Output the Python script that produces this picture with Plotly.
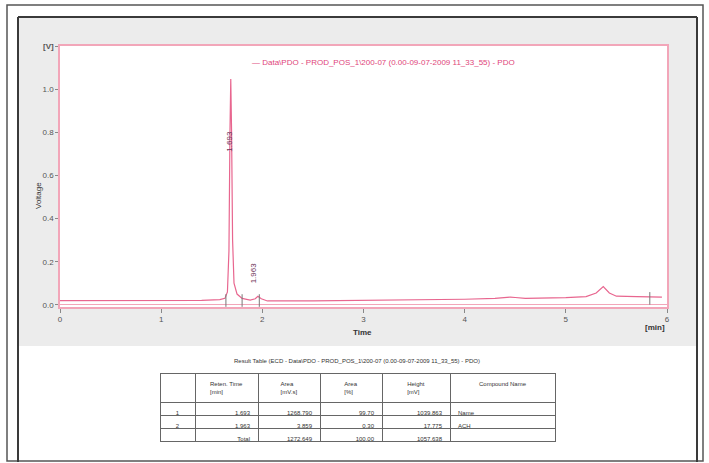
import plotly.graph_objects as go

# ---------------- data ----------------
time_min = [0.00, 0.50, 1.00, 1.40, 1.58, 1.63, 1.655, 1.670, 1.680, 1.688, 1.696, 1.706,
            1.720, 1.75, 1.80, 1.88, 1.93, 1.956, 1.99, 2.05, 2.50, 3.00, 3.50, 4.00,
            4.30, 4.45, 4.50, 4.60, 5.00, 5.20, 5.30, 5.37, 5.43, 5.50, 5.70, 5.85, 5.95]
voltage = [0.020, 0.020, 0.020, 0.021, 0.024, 0.030, 0.060, 0.250, 0.800, 1.047, 0.800, 0.300,
           0.100, 0.050, 0.030, 0.022, 0.028, 0.040, 0.028, 0.018, 0.018, 0.020, 0.022, 0.026,
           0.030, 0.036, 0.034, 0.030, 0.033, 0.038, 0.055, 0.085, 0.055, 0.040, 0.038, 0.036, 0.036]

peak_times = [1.688, 1.956]
peak_labels = ["1.693", "1.963"]
peak_label_y = [0.76, 0.15]

mark_times = [1.64, 1.80, 1.97, 5.83]
mark_volts = [0.02, 0.02, 0.02, 0.03]

x_ticks = [0, 1, 2, 3, 4, 5, 6]
y_ticks = [0.0, 0.2, 0.4, 0.6, 0.8, 1.0, 1.2]
y_ticktext = ["0.0", "0.2", "0.4", "0.6", "0.8", "1.0", "<b>[V]</b>"]

legend_text = "— Data\\PDO - PROD_POS_1\\200-07 (0.00-09-07-2009 11_33_55) - PDO"
table_title = "Result Table (ECD - Data\\PDO - PROD_POS_1\\200-07 (0.00-09-07-2009 11_33_55) - PDO)"

tbl_header = ["", "Reten. Time<br>[min]", "Area<br>[mV.s]", "Area<br>[%]", "Height<br>[mV]", "Compound Name"]
tbl_idx = ["1", "2", ""]
tbl_rt = ["1.693", "1.963", "Total"]
tbl_area = ["1268.790", "3.859", "1272.649"]
tbl_pct = ["99.70", "0.30", "100.00"]
tbl_height = ["1039.863", "17.775", "1057.638"]
tbl_name = ["Name", "ACH", ""]

# ---------------- geometry helpers (pixel -> paper) ----------------
W, H = 709, 463
ML, MR, MT, MB = 60, 42, 46, 14
PW, PH = W - ML - MR, H - MT - MB


def px(x):
    return (x - ML) / PW


def py(y):
    return (H - MB - y) / PH


LINE = "#e8668f"
BORDER = "#f2a6b9"
FONT = "Liberation Sans"

fig = go.Figure()
fig.add_trace(go.Scatter(x=time_min, y=voltage, mode="lines",
                         line=dict(color=LINE, width=1.2), showlegend=False,
                         hoverinfo="skip"))
fig.add_trace(go.Scatter(x=mark_times, y=mark_volts, mode="markers",
                         marker=dict(symbol="line-ns", size=9,
                                     line=dict(color="#777777", width=1)),
                         showlegend=False, hoverinfo="skip"))

for t, lab, yy in zip(peak_times, peak_labels, peak_label_y):
    fig.add_annotation(x=t, y=yy, xref="x", yref="y", text=lab, textangle=-90,
                       showarrow=False, font=dict(family=FONT, size=8, color="#6e3358"),
                       xshift=-1 if t < 1.8 else -4)

fig.add_trace(go.Table(
    domain=dict(x=[px(160), px(555)], y=[py(448), py(373)]),
    columnwidth=[35, 63, 62, 62, 68, 105],
    header=dict(values=tbl_header, height=24,
                fill_color="white", line=dict(color="#666666", width=1),
                font=dict(family=FONT, size=6, color="#333333"), align="center"),
    cells=dict(values=[tbl_idx, tbl_rt, tbl_area, tbl_pct, tbl_height, tbl_name], height=13,
               fill_color="white", line=dict(color="#666666", width=1),
               font=dict(family=FONT, size=6, color="#333333"),
               align=["center", "right", "right", "right", "right", "left"]),
))

shapes = [
    # outer frame
    dict(type="rect", xref="paper", yref="paper", x0=px(7), x1=px(703), y0=py(461), y1=py(5),
         line=dict(color="#555555", width=1.5), fillcolor="white", layer="below"),
    # gray chart panel
    dict(type="rect", xref="paper", yref="paper", x0=px(18), x1=px(697), y0=py(346), y1=py(17),
         line=dict(width=0), fillcolor="#ececec", layer="below"),
    # white plot area
    dict(type="rect", xref="paper", yref="paper", x0=0, x1=1, y0=py(307), y1=1,
         line=dict(width=0), fillcolor="white", layer="below"),
    # inner frame lines
    dict(type="line", xref="paper", yref="paper", x0=px(18), x1=px(697), y0=py(17), y1=py(17),
         line=dict(color="#3a3a3a", width=2), layer="below"),
    dict(type="line", xref="paper", yref="paper", x0=px(18), x1=px(18), y0=py(17), y1=py(462),
         line=dict(color="#3a3a3a", width=2), layer="below"),
    dict(type="line", xref="paper", yref="paper", x0=px(697), x1=px(697), y0=py(17), y1=py(462),
         line=dict(color="#3a3a3a", width=2), layer="below"),
]

fig.add_annotation(x=px(250), y=py(62), xref="paper", yref="paper", text=legend_text,
                   showarrow=False, xanchor="left", yanchor="middle",
                   font=dict(family=FONT, size=8, color="#e0457a"))
fig.add_annotation(x=px(32), y=py(180), xref="paper", yref="paper", text="Voltage",
                   textangle=-90, showarrow=False,
                   font=dict(family=FONT, size=8, color="#333333"))
fig.add_annotation(x=px(362), y=py(339), xref="paper", yref="paper", text="<b>Time</b>",
                   showarrow=False, font=dict(family=FONT, size=8, color="#333333"))
fig.add_annotation(x=px(667), y=py(334), xref="paper", yref="paper", text="<b>[min]</b>",
                   showarrow=False, font=dict(family=FONT, size=8, color="#333333"))
fig.add_annotation(x=px(357), y=py(366), xref="paper", yref="paper", text=table_title,
                   showarrow=False, font=dict(family=FONT, size=6, color="#333333"))

fig.update_layout(
    width=W, height=H,
    margin=dict(l=ML, r=MR, t=MT, b=MB),
    paper_bgcolor="white", plot_bgcolor="white",
    shapes=shapes,
    font=dict(family=FONT, size=8, color="#555555"),
    xaxis=dict(range=[0, 6], tickvals=x_ticks, ticktext=[str(v) for v in x_ticks],
               showgrid=False, zeroline=False, showline=True, mirror=True,
               linecolor=BORDER, linewidth=1.5, ticks="outside", ticklen=4,
               tickcolor="#888888", tickfont=dict(size=8, color="#555555"),
               anchor="y", domain=[0, 1]),
    yaxis=dict(range=[-0.01, 1.2], tickvals=y_ticks, ticktext=y_ticktext,
               showgrid=False, zeroline=True, zerolinecolor=BORDER, zerolinewidth=1,
               showline=True, mirror=True,
               linecolor=BORDER, linewidth=1.5, ticks="outside", ticklen=3,
               tickcolor="#888888", tickfont=dict(size=8, color="#555555"),
               domain=[py(307), 1]),
)

fig.write_html("out.html",
               config={"displayModeBar": False},
               post_script="document.body.style.margin='0px';"
                           "document.documentElement.style.overflow='hidden';"
                           "document.body.style.overflow='hidden';")
